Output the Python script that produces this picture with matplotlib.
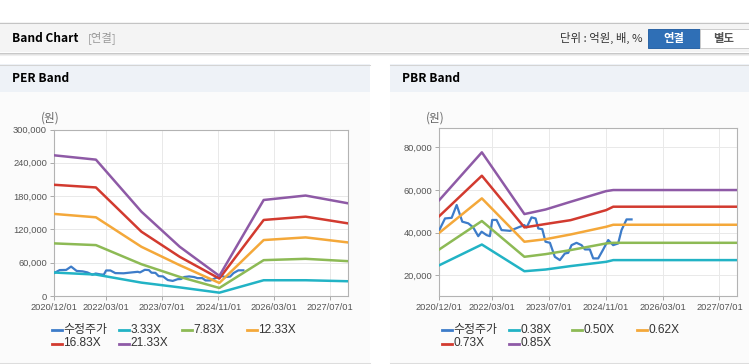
import pandas as pd
import matplotlib.pyplot as plt
import matplotlib.dates as mdates
from matplotlib.lines import Line2D
from matplotlib.patches import Rectangle
from matplotlib.ticker import FuncFormatter

W, H = 749, 364
KR = ["Noto Sans CJK KR", "DejaVu Sans"]
LAT = ["Liberation Sans", "Noto Sans CJK KR"]

# ---- data ----
tick_dates = ["2020-12-01", "2022-03-01", "2023-07-01", "2024-11-01", "2026-03-01", "2027-07-01"]

price_dates = ["2020-12-01", "2021-01-19", "2021-03-17", "2021-04-29", "2021-06-16", "2021-08-07",
               "2021-09-18", "2021-10-31", "2021-11-29", "2022-01-11", "2022-02-08", "2022-02-28",
               "2022-04-06", "2022-05-19", "2022-07-30", "2022-10-09", "2022-11-30", "2022-12-20",
               "2023-01-31", "2023-03-07", "2023-03-30", "2023-05-03", "2023-05-31", "2023-07-08",
               "2023-08-19", "2023-10-01", "2023-11-13", "2023-12-12", "2024-01-09", "2024-02-21",
               "2024-04-04", "2024-05-03", "2024-06-14", "2024-07-13", "2024-08-25", "2024-10-07",
               "2024-11-19", "2024-12-31", "2025-02-12", "2025-03-13", "2025-04-25", "2025-06-07"]
price = [41250, 46700, 47000, 53000, 45200, 44400,
         42500, 38400, 40500, 38900, 38400, 46000,
         46000, 41250, 40900, 42500, 43600, 42500,
         47200, 46700, 42000, 41700, 35800, 35300,
         28750, 27200, 30300, 30600, 34200, 35300,
         34200, 32200, 32200, 28000, 28000, 32200,
         36600, 34200, 35000, 41250, 46250, 46250]

per_dates = ["2020-12-01", "2021-12-01", "2023-01-01", "2023-12-01",
             "2024-11-10", "2025-12-01", "2026-12-01", "2027-12-01"]
per_labels = ["3.33X", "7.83X", "12.33X", "16.83X", "21.33X"]
per_333 = [42300, 38600, 24100, 15500, 6000, 28400, 28400, 26600]
per_783 = [94800, 91700, 57300, 34400, 14500, 64600, 67000, 62800]
per_1233 = [147900, 141800, 88700, 55500, 23500, 100800, 105600, 96600]
per_1683 = [200400, 195600, 115900, 70600, 31400, 137000, 143000, 131000]
per_2133 = [253500, 245700, 152000, 88700, 36200, 173000, 181000, 167200]

pbr_dates = ["2020-12-01", "2021-12-01", "2022-12-01", "2023-06-01",
             "2024-01-01", "2024-11-01", "2025-01-01", "2027-12-01"]
pbr_labels = ["0.38X", "0.50X", "0.62X", "0.73X", "0.85X"]
pbr_038 = [24800, 34500, 22000, 22800, 24400, 26400, 27200, 27200]
pbr_050 = [32200, 45500, 28750, 30000, 31900, 35000, 35300, 35300]
pbr_062 = [40000, 56100, 35800, 37000, 39200, 42800, 43750, 43750]
pbr_073 = [47800, 66700, 42500, 44100, 45900, 50600, 52200, 52200]
pbr_085 = [55300, 77650, 48750, 50900, 54500, 59500, 60000, 60000]

colors = ["#3d7cc9", "#22b3c5", "#8dba55", "#f4a83a", "#d23a2f", "#8e5aa6"]


def fx(x):
    return x / W


def fy(y):
    return 1 - y / H


def box(x, y, w, h, z=-10, **kw):
    fig.add_artist(Rectangle((fx(x), fy(y + h)), w / W, h / H,
                             transform=fig.transFigure, zorder=z, **kw))


def hline(x0, x1, y, color, lw=0.75):
    fig.add_artist(Line2D([fx(x0), fx(x1)], [fy(y), fy(y)],
                          transform=fig.transFigure, color=color, lw=lw, zorder=-5))


fig = plt.figure(figsize=(W / 100, H / 100), dpi=100)
fig.patch.set_facecolor("white")

# top header bar
box(0, 22, W, 30, facecolor="#f4f4f4", edgecolor="none")
hline(0, W, 22.5, "#c4c4c4")
hline(0, W, 52.5, "#c8c8c8")
hline(0, W, 53.5, "#e2e2e2")
hline(0, W, 54.5, "#efefef")
fig.text(fx(12), fy(38), "Band Chart", fontsize=8.6, fontweight="bold", family=KR, va="center")
fig.text(fx(88), fy(38), "[연결]", fontsize=8.2, color="#999999", family=KR, va="center")
fig.text(fx(643), fy(38), "단위 : 억원, 배, %", fontsize=8.2, color="#333333", family=KR,
         va="center", ha="right")
box(648, 29, 52, 19, z=2, facecolor="#2f6fb6", edgecolor="#2a64a6", lw=0.7)
box(700, 29, 48.5, 19, z=2, facecolor="white", edgecolor="#cccccc", lw=0.7)
fig.text(fx(674), fy(38.5), "연결", fontsize=8.2, fontweight="bold", color="white", family=KR,
         ha="center", va="center", zorder=3)
fig.text(fx(724), fy(38.5), "별도", fontsize=8.2, fontweight="bold", color="#555555", family=KR,
         ha="center", va="center", zorder=3)

# panels
for px0, px1, title in [(0, 370, "PER Band"), (390, W, "PBR Band")]:
    box(px0, 64, px1 - px0, 28, facecolor="#eef2f7", edgecolor="none")
    box(px0, 92, px1 - px0, 271, facecolor="#fbfbfb", edgecolor="none")
    hline(px0, px1, 64.5, "#d4d4d4")
    hline(px0, px1, 363, "#dddddd")
    fig.text(fx(px0 + 12), fy(79), title, fontsize=8.6, fontweight="bold", family=KR, va="center")


def draw_chart(ax, band_dates, bands, labels, ylim, yticks, yunit_x, leg_x):
    ax.set_facecolor("white")
    ax.plot(pd.to_datetime(price_dates), price, color=colors[0], lw=1.6, zorder=3)
    bd = pd.to_datetime(band_dates)
    for i, vals in enumerate(bands):
        ax.plot(bd, vals, color=colors[i + 1], lw=1.8, zorder=4 + i)
    ax.set_xlim(pd.Timestamp("2020-12-01"), pd.Timestamp("2027-12-01"))
    ax.set_ylim(*ylim)
    ax.set_yticks(yticks)
    ax.set_xticks(pd.to_datetime(tick_dates))
    ax.xaxis.set_major_formatter(mdates.DateFormatter("%Y/%m/%d"))
    ax.yaxis.set_major_formatter(FuncFormatter(lambda v, p: f"{int(v):,}"))
    ax.grid(True, color="#e9e9e9", lw=0.7)
    ax.set_axisbelow(True)
    for s in ax.spines.values():
        s.set_color("#b3b3b3")
        s.set_linewidth(0.8)
    ax.tick_params(length=3, width=0.7, color="#aaaaaa", labelsize=6.7,
                   labelcolor="#555555", pad=2)
    for lab in ax.get_xticklabels() + ax.get_yticklabels():
        lab.set_family(LAT)
    fig.text(fx(yunit_x), fy(118), "(원)", fontsize=8.4, color="#666666", family=KR,
             ha="center", va="center")
    # legend
    names = ["수정주가"] + labels
    cols = [0, 67, 130, 195]
    for i, name in enumerate(names):
        x = leg_x + cols[i % 4]
        y = 330 if i < 4 else 343.5
        fig.add_artist(Line2D([fx(x), fx(x + 10)], [fy(y), fy(y)], transform=fig.transFigure,
                              color=colors[i], lw=2))
        fig.text(fx(x + 11.5), fy(y), name, fontsize=8.6, color="#333333", family=LAT,
                 va="center")


ax1 = fig.add_axes([fx(54), fy(296), (347.5 - 54) / W, (296 - 129.5) / H])
draw_chart(ax1, per_dates, [per_333, per_783, per_1233, per_1683, per_2133], per_labels,
           (0, 300000), range(0, 300001, 60000), 50, 52)

ax2 = fig.add_axes([fx(439.3), fy(296), (737.3 - 439.3) / W, (296 - 128.3) / H])
draw_chart(ax2, pbr_dates, [pbr_038, pbr_050, pbr_062, pbr_073, pbr_085], pbr_labels,
           (10400, 88900), [20000, 40000, 60000, 80000], 435, 442)

fig.savefig("out.png", dpi=100)
